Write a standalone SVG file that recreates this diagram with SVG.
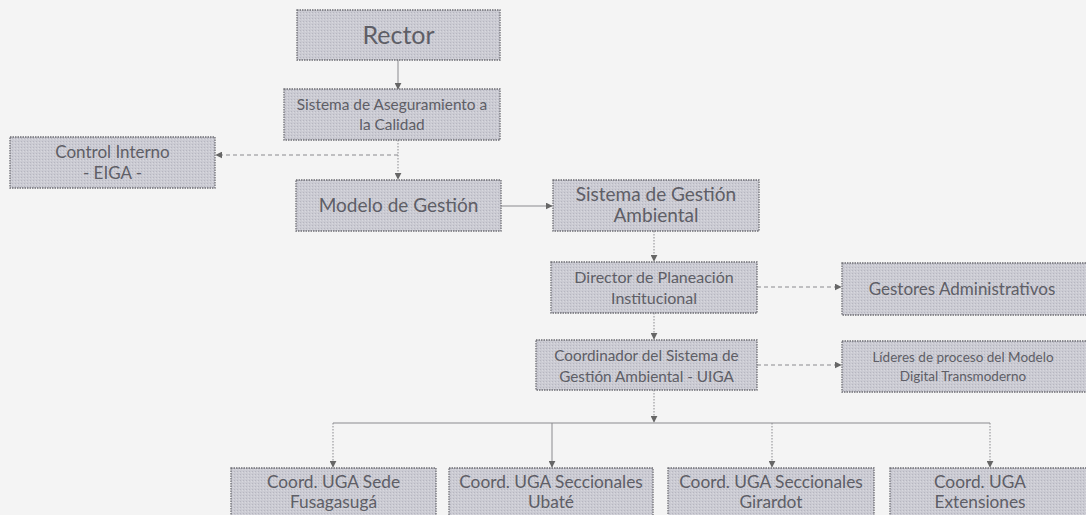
<svg xmlns="http://www.w3.org/2000/svg" width="1086" height="515" viewBox="0 0 1086 515">
<defs>
<pattern id="stip" width="3" height="3" patternUnits="userSpaceOnUse">
<rect width="3" height="3" fill="#cbcbd3"/>
<rect width="1" height="1" fill="#b6b6c0"/>
<rect x="2" y="1" width="1" height="1" fill="#d8d8de"/>
</pattern>
<marker id="ah" viewBox="0 0 10 10" refX="9" refY="5" markerWidth="7" markerHeight="7" orient="auto" markerUnits="userSpaceOnUse">
<path d="M0,0 L10,5 L0,10 z" fill="#666"/>
</marker>
</defs>
<style>
.box{fill:url(#stip);stroke:#6e6e74;stroke-width:1.3;stroke-dasharray:1.5 1}
.t{font-family:Lato,"Open Sans","Liberation Sans",sans-serif;fill:#5e5e66;text-anchor:middle}
.c{fill:none;stroke:#8a8a8e;stroke-width:1}
.d{stroke-dasharray:4 3}
.p{stroke-dasharray:1.5 1.5}
</style>
<rect width="1086" height="515" fill="#f4f4f4"/>
<g id="connectors">
<path class="c" d="M398,60 V89" marker-end="url(#ah)"/>
<path class="c p" d="M398,140 V179" marker-end="url(#ah)"/>
<path class="c d" d="M398,155 H216" marker-end="url(#ah)"/>
<path class="c" d="M501,206 H552" marker-end="url(#ah)"/>
<path class="c p" d="M654,231 V261" marker-end="url(#ah)"/>
<path class="c d" d="M757,287 H841" marker-end="url(#ah)"/>
<path class="c p" d="M654,313 V339" marker-end="url(#ah)"/>
<path class="c d" d="M757,365 H841" marker-end="url(#ah)"/>
<path class="c p" d="M654,390 V422" marker-end="url(#ah)"/>
<path class="c" d="M333,423 H990"/>
<path class="c p" d="M333,423 V467" marker-end="url(#ah)"/>
<path class="c" d="M552,423 V467" marker-end="url(#ah)"/>
<path class="c p" d="M772,423 V467" marker-end="url(#ah)"/>
<path class="c p" d="M990,423 V467" marker-end="url(#ah)"/>
</g>
<g id="rector"><rect class="box" x="297" y="10" width="203" height="50"/><text class="t" x="398.5" y="44" font-size="25">Rector</text></g>
<g id="aseguramiento"><rect class="box" x="284" y="89" width="216" height="51"/><text class="t" x="392" y="110" font-size="15.4">Sistema de Aseguramiento a</text><text class="t" x="392" y="130" font-size="15.4">la Calidad</text></g>
<g id="control"><rect class="box" x="10" y="137" width="205" height="51"/><text class="t" x="112.5" y="158" font-size="17">Control Interno</text><text class="t" x="112.5" y="179" font-size="17">- EIGA -</text></g>
<g id="modelo"><rect class="box" x="296" y="180" width="205" height="51"/><text class="t" x="398.5" y="212" font-size="19">Modelo de Gestión</text></g>
<g id="sga"><rect class="box" x="553" y="180" width="206" height="51"/><text class="t" x="656" y="201" font-size="19">Sistema de Gestión</text><text class="t" x="656" y="222" font-size="19">Ambiental</text></g>
<g id="director"><rect class="box" x="551" y="262" width="206" height="51"/><text class="t" x="654" y="283" font-size="16">Director de Planeación</text><text class="t" x="654" y="304" font-size="16">Institucional</text></g>
<g id="gestores"><rect class="box" x="842" y="263" width="250" height="52"/><text class="t" x="962" y="295" font-size="17">Gestores Administrativos</text></g>
<g id="coordinador"><rect class="box" x="536" y="340" width="221" height="50"/><text class="t" x="646.5" y="361" font-size="15.3">Coordinador del Sistema de</text><text class="t" x="646.5" y="382" font-size="15.3">Gestión Ambiental - UIGA</text></g>
<g id="lideres"><rect class="box" x="842" y="341" width="250" height="51"/><text class="t" x="963" y="362" font-size="13.5">Líderes de proceso del Modelo</text><text class="t" x="963" y="381" font-size="13.5">Digital Transmoderno</text></g>
<g id="fusagasuga"><rect class="box" x="231" y="468" width="205" height="52"/><text class="t" x="333.5" y="488" font-size="17.3">Coord. UGA Sede</text><text class="t" x="333.5" y="508" font-size="17.3">Fusagasugá</text></g>
<g id="ubate"><rect class="box" x="449" y="468" width="204" height="52"/><text class="t" x="551" y="488" font-size="17.3">Coord. UGA Seccionales</text><text class="t" x="551" y="508" font-size="17.3">Ubaté</text></g>
<g id="girardot"><rect class="box" x="668" y="468" width="206" height="52"/><text class="t" x="771" y="488" font-size="17.3">Coord. UGA Seccionales</text><text class="t" x="771" y="508" font-size="17.3">Girardot</text></g>
<g id="extensiones"><rect class="box" x="890" y="468" width="200" height="52"/><text class="t" x="980" y="488" font-size="17.3">Coord. UGA</text><text class="t" x="980" y="508" font-size="17.3">Extensiones</text></g>
</svg>
